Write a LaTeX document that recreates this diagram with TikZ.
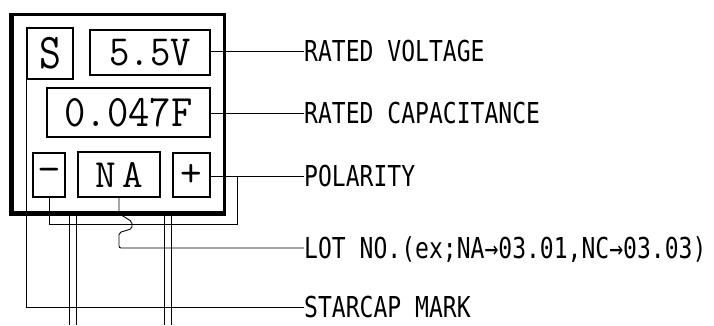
\documentclass[tikz,border=0pt]{standalone}
\usepackage{fontspec}
\usepackage{graphicx}
\newfontfamily\lblfont[FakeStretch=0.80]{DejaVu Sans Mono}
\begin{document}
\begin{tikzpicture}[x=1pt,y=-1pt]
\tikzset{
  box/.style={draw, line width=1.3pt, inner sep=0pt, anchor=center},
  lbl/.style={anchor=west, inner sep=0pt, font=\lblfont\fontsize{28.8}{28.8}\selectfont, text height=21pt, text depth=0pt},
  wire/.style={line width=0.9pt},
  body/.style={draw, line width=3pt, inner sep=0pt, anchor=north west}
}
\useasboundingbox[fill=white] (0,0) rectangle (714,325);

% outer body
\node[body, minimum width=212pt, minimum height=198pt] (B) at (11,13) {};
\draw[line width=4pt] (B.north west) -- (B.south west) -- (B.south east);

% inner boxes
\node[box, minimum width=46pt, minimum height=51pt, font=\ttfamily\fontsize{50}{50}\selectfont] (S) at (50,53.5) {\scalebox{0.85}[1]{S}};
\node[box, minimum width=120pt, minimum height=45pt, font=\ttfamily\fontsize{43}{43}\selectfont] (V) at (150,52.5) {\scalebox{0.92}[1]{5.5V}};
\node[box, minimum width=163pt, minimum height=49pt, font=\ttfamily\fontsize{45}{45}\selectfont] (F) at (128.5,112.5) {\scalebox{0.92}[1]{0.047F}};
\node[box, minimum width=32pt, minimum height=44pt, font=\ttfamily\fontsize{42}{42}\selectfont] (M) at (49,175) {−};
\node[box, minimum width=82pt, minimum height=45pt, font=\ttfamily\fontsize{40}{40}\selectfont] (NA) at (119,174.5) {N\hspace{6pt}A};
\node[box, minimum width=37pt, minimum height=44pt, font=\ttfamily\fontsize{42}{42}\selectfont] (P) at (191.5,175) {+};

% labels
\node[lbl] (L1) at (304,51) {RATED VOLTAGE};
\node[lbl] (L2) at (304,113) {RATED CAPACITANCE};
\node[lbl] (L3) at (304,176) {POLARITY};
\node[lbl] (L4) at (304,248) {LOT NO.(ex;NA→03.01,NC→03.03)};
\node[lbl] (L5) at (304,307) {STARCAP MARK};

% connectors
\draw[wire] (V.east |- L1.west) -- (L1.west);
\draw[wire] (F.east |- L2.west) -- (L2.west);
\draw[wire] (P.east |- L3.west) -- (L3.west);
\coordinate (pj) at (237,176);
\draw[wire] (M.south) -- (M.south |- 0,224) -- (pj |- 0,224) -- (pj);
\draw[wire, rounded corners=2pt] (NA.south) -- ++(0,16) -- ++(13,8) -- ++(0,7) -- ++(-13,4) |- (L4.west);
\draw[wire] (S.south west) |- (L5.west);

% pins
\coordinate (p1) at (69,325);
\coordinate (p2) at (76,325);
\coordinate (p3) at (164,325);
\coordinate (p4) at (171,325);
\foreach \p in {p1,p2,p3,p4}
  \draw[wire] (\p |- B.south) -- (\p);
\end{tikzpicture}
\end{document}
